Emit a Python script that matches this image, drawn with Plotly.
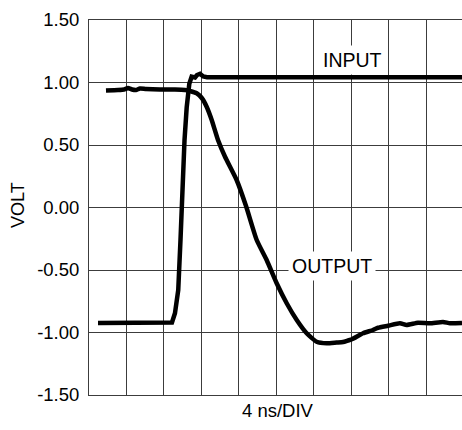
import plotly.graph_objects as go

# Time axis in ns (4 ns per division)
input_t = [0.96, 8.85, 9.17, 9.35, 9.52, 9.76, 9.95, 10.19, 10.42, 10.70, 10.95, 11.31, 11.52, 11.84, 12.19, 12.59, 39.79]
input_v = [-0.924, -0.92, -0.846, -0.74, -0.66, -0.26, 0.22, 0.54, 0.80, 0.99, 1.046, 1.04, 1.06, 1.07, 1.048, 1.042, 1.042]

output_t = [1.81, 3.09, 3.73, 4.16, 4.59, 5.01, 5.44, 6.08, 7.57, 9.17, 10.24, 10.77, 11.49, 12.05, 12.55, 13.09,
            13.76, 14.51, 15.75, 16.75, 17.89, 18.95, 20.02, 21.09, 22.16, 23.22, 24.29, 25.36, 26.42, 27.10,
            27.62, 28.05, 29.23, 30.29, 30.83, 31.89, 33.17, 33.88, 35.09, 36.37, 37.76, 38.51, 39.79]
output_v = [0.936, 0.94, 0.944, 0.956, 0.944, 0.94, 0.952, 0.948, 0.944, 0.944, 0.94, 0.932, 0.914, 0.874, 0.806, 0.70,
            0.54, 0.406, 0.22, 0.012, -0.26, -0.42, -0.606, -0.766, -0.90, -1.006, -1.074, -1.086, -1.08, -1.076,
            -1.064, -1.054, -1.006, -0.98, -0.962, -0.946, -0.926, -0.94, -0.922, -0.926, -0.916, -0.926, -0.924]

y_ticks = [1.5, 1.0, 0.5, 0.0, -0.5, -1.0, -1.5]
y_tick_labels = ["1.50", "1.00", "0.50", "0.00", "-0.50", "-1.00", "-1.50"]
x_ticks = [4, 8, 12, 16, 20, 24, 28, 32, 36]

FONT = "Liberation Sans, Arial, sans-serif"
GRID = "#3c3c3c"

fig = go.Figure()
fig.add_trace(go.Scatter(x=input_t, y=input_v, mode="lines",
                         line=dict(color="black", width=4.5), showlegend=False))
fig.add_trace(go.Scatter(x=output_t, y=output_v, mode="lines",
                         line=dict(color="black", width=4.5, shape="spline", smoothing=0.5),
                         showlegend=False))

fig.update_layout(
    width=462, height=430,
    margin=dict(l=89, r=0, t=20, b=35),
    paper_bgcolor="white", plot_bgcolor="white",
    font=dict(family=FONT, color="black", size=18),
    xaxis=dict(range=[0, 39.79], tickvals=x_ticks, showticklabels=False, ticks="",
               showgrid=True, gridcolor=GRID, gridwidth=1, zeroline=False,
               showline=True, linecolor=GRID, linewidth=1, mirror=True, fixedrange=True),
    yaxis=dict(range=[-1.5, 1.5], tickvals=y_ticks, ticktext=y_tick_labels, ticks="",
               ticklabelstandoff=5, tickfont=dict(size=18.5, family=FONT, color="black"),
               showgrid=True, gridcolor=GRID, gridwidth=1, zeroline=False,
               showline=True, linecolor=GRID, linewidth=1, mirror=True, fixedrange=True),
    annotations=[
        dict(text="INPUT", x=28.1, y=1.18, xref="x", yref="y", showarrow=False,
             font=dict(size=19.5, family=FONT, color="black"), bgcolor="white", borderpad=3),
        dict(text="OUTPUT", x=25.9, y=-0.47, xref="x", yref="y", showarrow=False,
             font=dict(size=19.5, family=FONT, color="black"), bgcolor="white", borderpad=3),
        dict(text="4 ns/DIV", x=0.49, y=410, xref="paper", yref="paper", showarrow=False,
             font=dict(size=18.5, family=FONT, color="black")),
        dict(text="VOLT", x=18, y=205, xref="paper", yref="paper", showarrow=False, textangle=-90,
             font=dict(size=18, family=FONT, color="black")),
    ],
)

# place the axis-title annotations in pixel terms
ph = 430 - 20 - 35
pw = 462 - 89
fig.layout.annotations[2].update(x=(278 - 89) / pw, y=(395 - 410) / ph, yanchor="middle")
fig.layout.annotations[3].update(x=(18 - 89) / pw, y=(395 - 205) / ph, xanchor="center")

fig.write_html("out.html")
